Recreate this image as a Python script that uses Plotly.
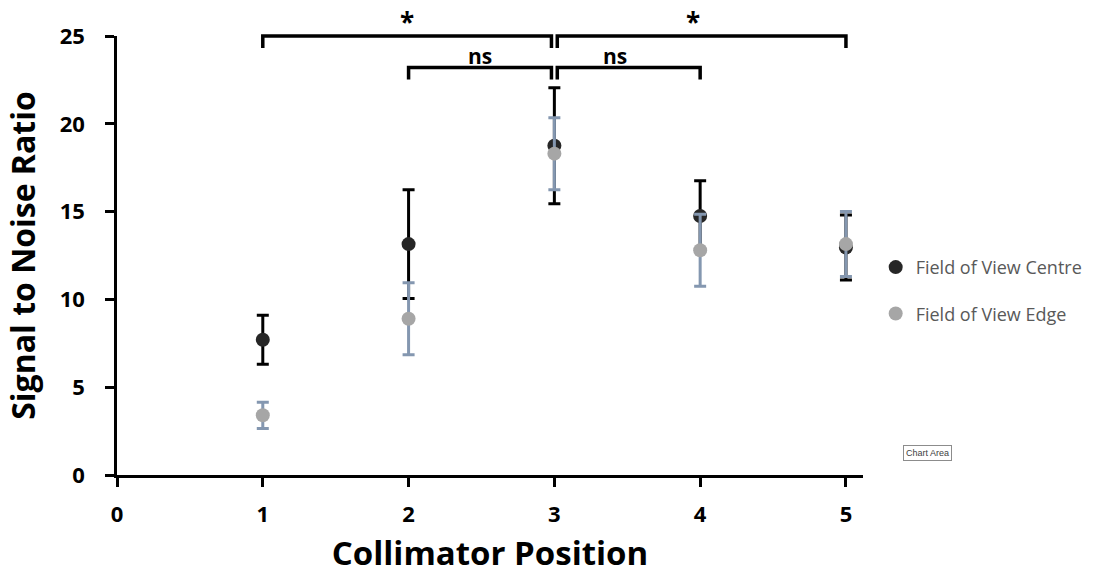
import plotly.graph_objects as go

# ---- data ----
positions = [1, 2, 3, 4, 5]
centre_snr = [7.7, 13.15, 18.75, 14.75, 12.95]
centre_err = [1.4, 3.1, 3.3, 2.0, 1.85]
edge_snr = [3.4, 8.9, 18.3, 12.8, 13.15]
edge_err = [0.75, 2.05, 2.05, 2.05, 1.85]

y_ticks = [0, 5, 10, 15, 20, 25]
x_ticks = [0, 1, 2, 3, 4, 5]

# significance brackets: (x_start, x_end, y_level, label)
brackets = [
    (1.0, 2.98, 25.0, "*"),
    (3.02, 5.0, 25.0, "*"),
    (2.0, 2.98, 23.2, "ns"),
    (3.02, 4.0, 23.2, "ns"),
]

X_RANGE = [0, 5.117]
Y_RANGE = [0, 25]

FONT = "Open Sans"
W, H = 1110, 579
ML, MR, MT, MB = 117, 247, 36, 104

fig = go.Figure()

fig.add_trace(go.Scatter(
    x=positions, y=centre_snr, mode="markers", name="Field of View Centre",
    legendgroup="c",
    marker=dict(color="#262626", size=14),
    error_y=dict(type="data", array=centre_err, visible=True,
                 color="#000000", thickness=3, width=6),
))
fig.add_trace(go.Scatter(
    x=positions, y=edge_snr, mode="markers", name="Field of View Edge",
    legendgroup="e",
    marker=dict(color="#A6A6A6", size=14),
    error_y=dict(type="data", array=edge_err, visible=True,
                 color="#8497B0", thickness=3, width=6),
))


def px(x):
    return (x - X_RANGE[0]) / (X_RANGE[1] - X_RANGE[0])


def py(y):
    return (y - Y_RANGE[0]) / (Y_RANGE[1] - Y_RANGE[0])


shapes = []
annotations = []
tick_drop = 0.68
for x0, x1, yl, lab in brackets:
    path = "M {a},{b} L {a},{c} L {d},{c} L {d},{b}".format(
        a=px(x0), b=py(yl - tick_drop), c=py(yl), d=px(x1))
    shapes.append(dict(type="path", path=path, xref="paper", yref="paper",
                       line=dict(color="black", width=3.5)))
    is_star = lab == "*"
    annotations.append(dict(
        x=px((x0 + x1) / 2), y=py(yl), xref="paper", yref="paper",
        text="<b>%s</b>" % lab, showarrow=False, yanchor="bottom",
        yshift=-6 if is_star else -4,
        font=dict(family=FONT, size=26 if is_star else 21, color="black")))

# "Chart Area" tooltip box
annotations.append(dict(
    x=(903 - ML) / (W - ML - MR), y=(H - MB - 445) / (H - MB - MT),
    xref="paper", yref="paper", showarrow=False, text="Chart Area",
    font=dict(family="Liberation Sans", size=9, color="#404040"),
    bordercolor="#8c8c8c", borderwidth=1, bgcolor="white", borderpad=2,
    xanchor="left", yanchor="top"))

fig.update_layout(
    width=W, height=H,
    margin=dict(l=ML, r=MR, t=MT, b=MB),
    paper_bgcolor="white", plot_bgcolor="white",
    font=dict(family=FONT, color="black"),
    shapes=shapes,
    annotations=annotations,
    showlegend=True,
    legend=dict(x=1.017, y=0.515, xanchor="left", yanchor="top",
                font=dict(family=FONT, size=18, color="#595959"),
                traceorder="grouped", tracegroupgap=20,
                bgcolor="rgba(0,0,0,0)"),
    xaxis=dict(range=X_RANGE, tickvals=x_ticks,
               ticktext=["<b>%d</b>" % v for v in x_ticks],
               showgrid=False, zeroline=False, automargin=False,
               showline=True, linecolor="black", linewidth=2.5,
               ticks="outside", ticklen=9, tickwidth=2.5, tickcolor="black",
               ticklabelstandoff=9,
               tickfont=dict(family=FONT, size=22, color="black"),
               title=dict(text="<b>Collimator Position</b>",
                          font=dict(family=FONT, size=33, color="black"))),
    yaxis=dict(range=Y_RANGE, tickvals=y_ticks,
               ticktext=["<b>%d</b>" % v for v in y_ticks],
               showgrid=False, zeroline=False, automargin=False,
               showline=True, linecolor="black", linewidth=2.5,
               ticks="outside", ticklen=9, tickwidth=2.5, tickcolor="black",
               ticklabelstandoff=16,
               tickfont=dict(family=FONT, size=22, color="black"),
               title=dict(text="<b>Signal to Noise Ratio</b>",
                          font=dict(family=FONT, size=32, color="black"))),
)

fig.write_html("out.html")
